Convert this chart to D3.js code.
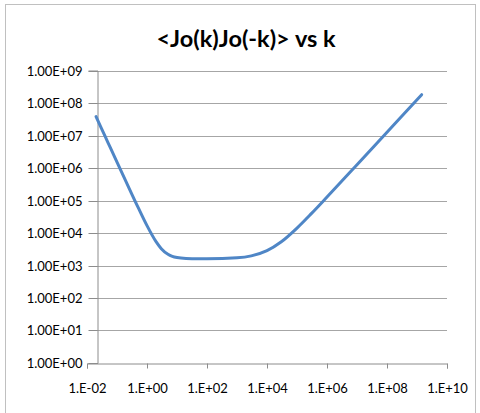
<!DOCTYPE html>
<html><head><meta charset="utf-8">
<script src="https://cdn.jsdelivr.net/npm/d3@7"></script>
<style>body{margin:0;background:#fff}svg{display:block}</style>
</head><body>
<script>
const kValues = [0.02,0.03,0.05,0.1,0.2,0.5,1,2,3,5,7,10,20,50,100,1000,3000,1e4,3e4,1e5,3e5,1e6,1e7,1e8,1e9,1.43e9];
const corrValues = [3.8e7,1.69e7,6.08e6,1.52e6,3.82e5,62400,16800,5400,3290,2210,1910,1752,1640,1612,1614,1726,1980,2860,5380,14200,39400,127600,1.26e6,1.26e7,1.26e8,1.8e8];
const yTicks = [1,10,100,1e3,1e4,1e5,1e6,1e7,1e8,1e9];
const yTickLabels = ["1.00E+00","1.00E+01","1.00E+02","1.00E+03","1.00E+04","1.00E+05","1.00E+06","1.00E+07","1.00E+08","1.00E+09"];
const xTicks = [1e-2,1,1e2,1e4,1e6,1e8,1e10];
const xTickLabels = ["1.E-02","1.E+00","1.E+02","1.E+04","1.E+06","1.E+08","1.E+10"];
const title = "<Jo(k)Jo(-k)> vs k";

const W = 480, H = 413;
const svg = d3.select("body").append("svg").attr("width", W).attr("height", H);
svg.append("rect").attr("x",5.5).attr("y",4.5).attr("width",470).attr("height",420)
  .attr("fill","#fff").attr("stroke","#c0c0c0").attr("stroke-width",1);

const x = d3.scaleLog().domain([1e-2,1e10]).range([87,447]);
const y = d3.scaleLog().domain([1,1e9]).range([363,70.5]);
const axisX = 97;
const font = "Lato, 'Open Sans', sans-serif";

svg.append("text").attr("x",246).attr("y",47).attr("text-anchor","middle")
  .attr("font-family",font).attr("font-weight","bold").attr("font-size",23.5)
  .attr("fill","#000").text(title);

// gridlines
svg.append("g").selectAll("line").data(yTicks.slice(1)).join("line")
  .attr("x1",axisX).attr("x2",447).attr("y1",d=>Math.round(y(d))+0.5).attr("y2",d=>Math.round(y(d))+0.5)
  .attr("stroke","#a6a6a6").attr("stroke-width",1);

// y axis
const yAxis = d3.axisLeft(y).tickValues(yTicks).tickFormat((d,i)=>yTickLabels[i]).tickSize(9).tickPadding(6);
const gy = svg.append("g").attr("transform",`translate(${axisX+0.5},0)`).call(yAxis);
gy.select(".domain").attr("stroke","#8c8c8c");
gy.selectAll(".tick line").attr("stroke","#8c8c8c");
gy.selectAll(".tick").attr("transform",d=>`translate(0,${Math.round(y(d))+0.5})`);
gy.selectAll("text").attr("font-family",font).attr("font-size",13).attr("fill","#000");

// x axis
const xAxis = d3.axisBottom(x).tickValues(xTicks).tickFormat((d,i)=>xTickLabels[i]).tickSize(5).tickPadding(15);
const gx = svg.append("g").attr("transform",`translate(0,${Math.round(y(1))+0.5})`).call(xAxis);
gx.select(".domain").attr("stroke","#8c8c8c");
gx.selectAll(".tick line").attr("stroke","#8c8c8c");
gx.selectAll(".tick").attr("transform",d=>`translate(${Math.round(x(d))+0.5},0)`);
gx.selectAll("text").attr("font-family",font).attr("font-size",13).attr("fill","#000");

// data line
const data = kValues.map((k,i)=>[k,corrValues[i]]);
const line = d3.line().x(d=>x(d[0])).y(d=>y(d[1])).curve(d3.curveMonotoneX);
svg.append("path").datum(data).attr("d",line).attr("fill","none")
  .attr("stroke","#4f86c6").attr("stroke-width",3).attr("stroke-linecap","round").attr("stroke-linejoin","round");
</script>
</body></html>
